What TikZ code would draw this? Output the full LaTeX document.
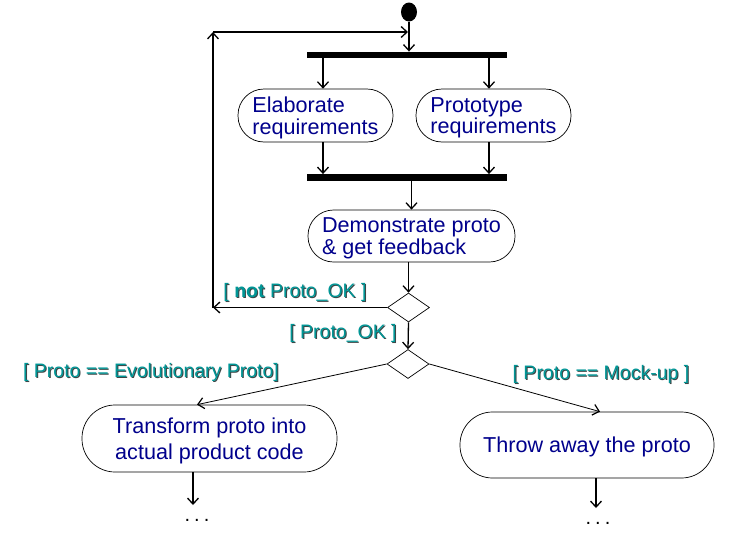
\documentclass[tikz,border=0pt]{standalone}
\usepackage{fontspec}
\setmainfont{Liberation Sans}
\usetikzlibrary{shapes.geometric,arrows.meta,calc}
\definecolor{navytext}{RGB}{0,0,140}
\definecolor{guardteal}{RGB}{0,150,150}
\definecolor{guardshadow}{RGB}{60,70,70}
\tikzset{
  act/.style={draw=black, line width=0.7pt, fill=white, text=navytext,
    font=\fontsize{21.6}{21.5}\selectfont, inner sep=0pt, text depth=0pt},
  bar/.style={fill=black, draw=none, minimum width=200pt, minimum height=6.5pt, inner sep=0pt},
  decision/.style={diamond, draw=black, line width=0.7pt, fill=white, inner sep=0pt,
    minimum width=42pt, minimum height=29pt},
  startdot/.style={ellipse, fill=black, draw=none, inner sep=0pt, minimum width=16pt, minimum height=19pt},
  flow/.style={line width=1.3pt, -{Straight Barb[length=6pt,width=11pt]}},
  thinflow/.style={line width=0.8pt, -{Straight Barb[length=6pt,width=11pt,line width=1.2pt]}},
  guard/.style={text=guardteal, font=\fontsize{19.5}{20}\selectfont, inner sep=0pt},
  guardsh/.style={text=guardshadow, font=\fontsize{19.5}{20}\selectfont, inner sep=0pt},
  dotsstyle/.style={font=\fontsize{20}{20}\selectfont, inner sep=0pt, text depth=0pt}
}
\newcommand\guardlabel[3]{%
  \node[guardsh] (#1s) at ($(#2)+(1,-1)$) {#3};
  \node[guard] (#1) at (#2) {#3};}
\begin{document}
\begin{tikzpicture}[x=1pt,y=1pt]
\useasboundingbox (0,0) rectangle (756,-544);
% nodes
\node[startdot] (start) at (409,-12) {};
\node[bar] (bar1) at (407,-55) {};
\node[act, minimum width=155pt, minimum height=53pt, rounded corners=26pt, align=left] (elab) at (315.5,-115.5) {Elaborate\\requirements};
\node[act, minimum width=155pt, minimum height=53pt, rounded corners=26pt, align=left] (proto) at (493.5,-115.5) {Prototype\\requirements};
\node[bar] (bar2) at (407,-177.5) {};
\node[act, minimum width=207pt, minimum height=52pt, rounded corners=25.5pt, align=left] (demo) at (411.5,-236) {Demonstrate proto\\\& get feedback};
\node[decision] (dia1) at (408.5,-307.5) {};
\node[decision] (dia2) at (408,-364) {};
\node[act, minimum width=255pt, minimum height=67pt, rounded corners=33pt, align=center, font=\fontsize{21.6}{26}\selectfont] (trans) at (209.5,-438.5) {Transform proto into\\actual product code};
\node[act, minimum width=254pt, minimum height=66pt, rounded corners=32.5pt] (throw) at (587,-445) {Throw away the proto};
\node[dotsstyle] (dl) at (197,-520) {.\hspace{4pt}.\hspace{4pt}.};
\node[dotsstyle] (dr) at (598,-523) {.\hspace{4pt}.\hspace{4pt}.};
% guards
\guardlabel{gnot}{295,-292}{[ \textbf{not} Proto\_OK ]}
\guardlabel{gok}{343,-333}{[ Proto\_OK ]}
\guardlabel{gevo}{151,-372}{[ Proto == Evolutionary Proto]}
\guardlabel{gmock}{601,-374}{[ Proto == Mock-up ]}
% coordinates
\coordinate (lx) at (213,0);
\coordinate (ltop) at (213,-32);
\coordinate (ea) at (323,0);
\coordinate (pa) at (489,0);
\coordinate (tend) at (193,-505);
\coordinate (rend) at (596,-508);
\coordinate (tin) at ($(trans.north)+(-12.5,0)$);
\coordinate (rin) at ($(throw.north)+(13,0)$);
% connectors
\draw[flow] (start.south) -- (start.south |- bar1.north);
\draw[flow] (bar1.south -| ea) -- (ea |- elab.north);
\draw[flow] (bar1.south -| pa) -- (pa |- proto.north);
\draw[flow] (elab.south -| ea) -- (ea |- bar2.north);
\draw[flow] (proto.south -| pa) -- (pa |- bar2.north);
\draw[flow] (bar2.south -| demo.north) -- (demo.north);
\draw[flow] (demo.south -| dia1.north) -- (dia1.north);
\draw[flow] (dia1.south) -- (dia2.north);
\draw[flow] (dia1.west) -- (dia1.west -| lx);
\draw[flow] (dia1.west -| lx) -- (ltop);
\draw[flow] (ltop) -- ($(ltop -| start)+(-1,0)$);
\draw[thinflow] (dia2.west) -- (tin);
\draw[thinflow] (dia2.east) -- (rin);
\draw[flow] (trans.south -| tend) -- (tend);
\draw[flow] (throw.south -| rend) -- (rend);
\end{tikzpicture}
\end{document}
